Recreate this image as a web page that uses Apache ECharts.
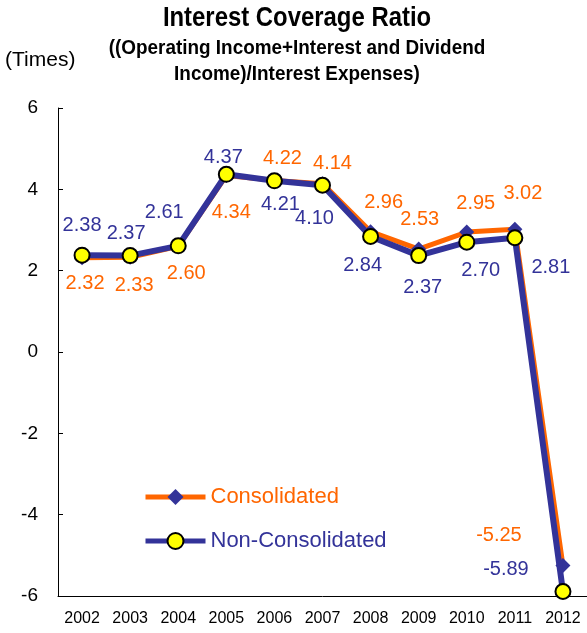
<!DOCTYPE html>
<html>
<head>
<meta charset="utf-8">
<script src="https://cdn.jsdelivr.net/npm/echarts@6/dist/echarts.min.js"></script>
<style>
  html, body { margin: 0; padding: 0; background: #fff; }
  #chart { width: 587px; height: 633px; }
</style>
</head>
<body>
<div id="chart"></div>
<script>
const years = ['2002', '2003', '2004', '2005', '2006', '2007', '2008', '2009', '2010', '2011', '2012'];
const consolidated = [2.32, 2.33, 2.60, 4.34, 4.22, 4.14, 2.96, 2.53, 2.95, 3.02, -5.25];
const nonConsolidated = [2.38, 2.37, 2.61, 4.37, 4.21, 4.10, 2.84, 2.37, 2.70, 2.81, -5.89];

// label offsets from each point (px)
const consOffsets = [[3, 26], [4, 28], [8, 27], [5, 37], [8, -22], [10, -20], [13, -29], [1, -30], [9, -29], [8, -36], [-64, -30]];
const nonOffsets = [[0, -30], [-4, -22], [-14, -33], [-3, -17], [6, 24], [-8, 33], [-8, 29], [4, 32], [14, 28], [36, 30], [-57, -22]];

const ORANGE = '#ff6600';
const NAVY = '#333399';
const FONT = 'Liberation Sans, Arial, sans-serif';

const withLabels = (values, offsets) => values.map((v, i) => ({
    value: v,
    label: { offset: offsets[i] }
}));

// narrow-looking title lines: squeeze normal text horizontally
const titleLine = (text, y, size, sx) => ({
    type: 'text', x: 297, y: y, scaleX: sx,
    style: {
        text: text, fontFamily: FONT, fontSize: size, fontWeight: 'bold',
        fill: '#000', align: 'center', verticalAlign: 'middle'
    }
});

const chart = echarts.init(document.getElementById('chart'));
chart.setOption({
    animation: false,
    graphic: [
        titleLine('Interest Coverage Ratio', 19, 27, 0.885),
        titleLine('((Operating Income+Interest and Dividend', 48, 21, 0.9),
        titleLine('Income)/Interest Expenses)', 74, 21, 0.9),
        {
            type: 'text', left: 5, top: 50,
            style: { text: '(Times)', fontFamily: FONT, fontSize: 21, fill: '#000' }
        }
    ],
    legend: {
        orient: 'vertical',
        left: 143,
        top: 486,
        padding: 0,
        itemWidth: 60,
        itemHeight: 20,
        itemGap: 22,
        textStyle: { fontFamily: FONT, fontSize: 22 },
        data: [
            { name: 'Consolidated', textStyle: { color: ORANGE }, lineStyle: { width: 5 } },
            { name: 'Non-Consolidated', textStyle: { color: NAVY }, lineStyle: { width: 5 } }
        ]
    },
    grid: { left: 58, right: -6, top: 108, bottom: 37 },
    xAxis: {
        type: 'category',
        data: years,
        boundaryGap: true,
        axisLine: { onZero: false, lineStyle: { color: '#000', width: 1 } },
        axisTick: { inside: true, length: 5, lineStyle: { color: '#000' } },
        axisLabel: { interval: 0, color: '#000', fontFamily: FONT, fontSize: 16, margin: 15 }
    },
    yAxis: {
        type: 'value',
        min: -6,
        max: 6,
        interval: 2,
        axisLine: { show: true, lineStyle: { color: '#000', width: 1 } },
        axisTick: { show: true, inside: true, length: 5, lineStyle: { color: '#000' } },
        splitLine: { show: false },
        axisLabel: { color: '#000', fontFamily: FONT, fontSize: 19, margin: 20 }
    },
    series: [
        {
            name: 'Consolidated',
            type: 'line',
            data: withLabels(consolidated, consOffsets),
            symbol: 'diamond',
            symbolSize: 15,
            itemStyle: { color: NAVY },
            lineStyle: { color: ORANGE, width: 5 },
            label: {
                show: true, position: 'inside',
                formatter: p => p.value.toFixed(2),
                color: ORANGE, fontFamily: FONT, fontSize: 20
            },
            z: 2
        },
        {
            name: 'Non-Consolidated',
            type: 'line',
            data: withLabels(nonConsolidated, nonOffsets),
            symbol: 'circle',
            symbolSize: 15,
            itemStyle: { color: '#ffff00', borderColor: '#000', borderWidth: 2 },
            lineStyle: { color: NAVY, width: 6 },
            label: {
                show: true, position: 'inside',
                formatter: p => p.value.toFixed(2),
                color: NAVY, fontFamily: FONT, fontSize: 20
            },
            z: 3
        }
    ]
});
</script>
</body>
</html>
